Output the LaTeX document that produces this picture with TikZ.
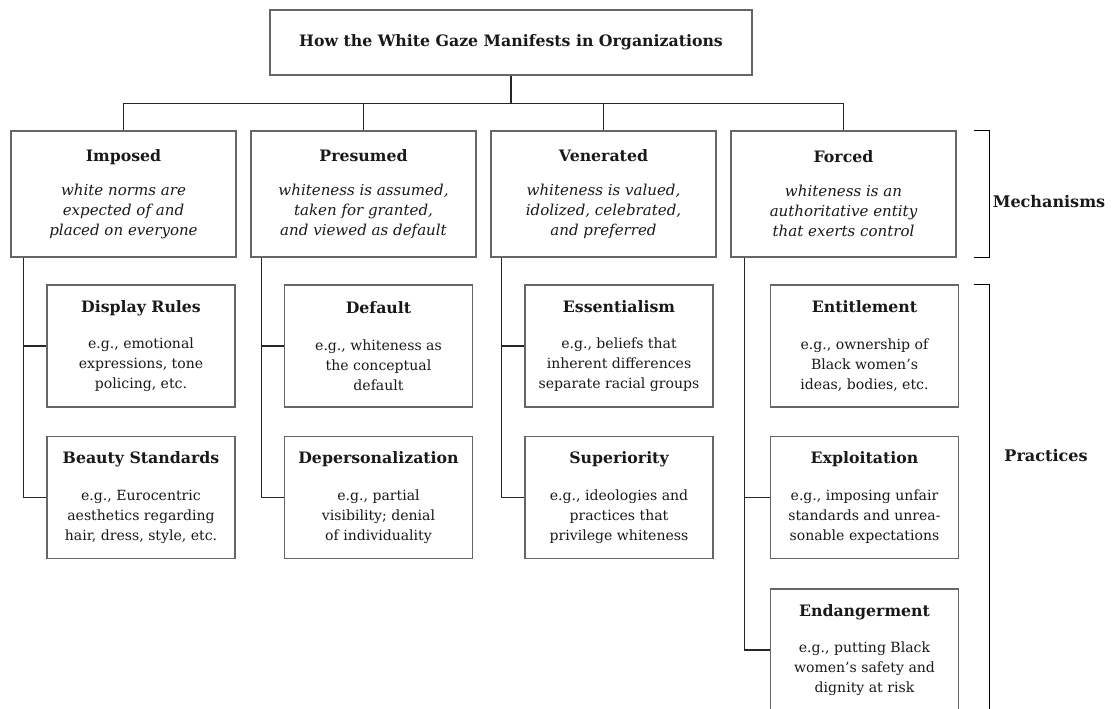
\documentclass[tikz,border=0pt]{standalone}
\usepackage{fontspec}
\setmainfont{DejaVu Serif}
\usepackage{xcolor}
\usepackage{tikz}
\usetikzlibrary{calc}

\newcommand{\headtext}[1]{{\fontsize{11.2}{14.2}\selectfont\bfseries #1}}

\begin{document}
\begin{tikzpicture}[
    font=\fontsize{10}{14.2}\selectfont,
    text=black!90,
    frame/.style={draw=black!60, line width=0.9pt, align=center},
    titlebox/.style={frame, minimum width=12.05cm, minimum height=1.625cm},
    mech/.style={frame, minimum width=5.625cm, minimum height=3.15cm,
                 font=\fontsize{10.7}{14.2}\selectfont},
    practice/.style={frame, minimum width=4.7cm, minimum height=3.05cm},
    link/.style={draw=black!85, line width=0.9pt},
    brace/.style={draw=black, line width=1.2pt},
    side/.style={font=\fontsize{11.4}{13}\selectfont\bfseries},
  ]

  \useasboundingbox (0,0) rectangle (27.85,-17.725);

  % Title
  \node[titlebox] (gaze) at (12.775,-1.0625)
    {\headtext{How the White Gaze Manifests in Organizations}};

  % Mechanisms
  \node[mech] (imposed) at (3.0875,-4.85)
    {\headtext{Imposed}\\[10pt]\itshape white norms are\\ \itshape expected of and\\ \itshape placed on everyone};
  \node[mech] (presumed) at (9.0875,-4.85)
    {\headtext{Presumed}\\[10pt]\itshape whiteness is assumed,\\ \itshape taken for granted,\\ \itshape and viewed as default};
  \node[mech] (venerated) at (15.0875,-4.85)
    {\headtext{Venerated}\\[10pt]\itshape whiteness is valued,\\ \itshape idolized, celebrated,\\ \itshape and preferred};
  \node[mech] (forced) at (21.0875,-4.85)
    {\headtext{Forced}\\[10pt]\itshape whiteness is an\\ \itshape authoritative entity\\ \itshape that exerts control};

  % Title to mechanisms
  \coordinate (bus) at ($(gaze.south)+(0,-0.7)$);
  \draw[link] (gaze.south) -- (bus);
  \draw[link] (imposed.north) |- (bus) -| (forced.north);
  \draw[link] (presumed.north) -- (presumed.north |- bus);
  \draw[link] (venerated.north) -- (venerated.north |- bus);

  % Practices, column 1
  \node[practice] (display) at (3.525,-8.65)
    {\headtext{Display Rules}\\[12pt]e.g., emotional\\ expressions, tone\\ policing, etc.};
  \node[practice] (beauty) at (3.525,-12.4375)
    {\headtext{Beauty Standards}\\[12pt]e.g., Eurocentric\\ aesthetics regarding\\ hair, dress, style, etc.};

  % Practices, column 2
  \node[practice] (default) at (9.4625,-8.65)
    {\headtext{Default}\\[12pt]e.g., whiteness as\\ the conceptual\\ default};
  \node[practice] (deperson) at (9.4625,-12.4375)
    {\headtext{Depersonalization}\\[12pt]e.g., partial\\ visibility; denial\\ of individuality};

  % Practices, column 3
  \node[practice] (essential) at (15.475,-8.65)
    {\headtext{Essentialism}\\[12pt]e.g., beliefs that\\ inherent differences\\ separate racial groups};
  \node[practice] (superior) at (15.475,-12.4375)
    {\headtext{Superiority}\\[12pt]e.g., ideologies and\\ practices that\\ privilege whiteness};

  % Practices, column 4
  \node[practice] (entitle) at (21.6125,-8.65)
    {\headtext{Entitlement}\\[12pt]e.g., ownership of\\ Black women's\\ ideas, bodies, etc.};
  \node[practice] (exploit) at (21.6125,-12.4375)
    {\headtext{Exploitation}\\[12pt]e.g., imposing unfair\\ standards and unrea-\\ sonable expectations};
  \node[practice] (endanger) at (21.6125,-16.25)
    {\headtext{Endangerment}\\[12pt]e.g., putting Black\\ women's safety and\\ dignity at risk};

  % Trunks down to practices
  \coordinate (imposed-trunk) at ($(imposed.south west)+(0.325,0)$);
  \coordinate (presumed-trunk) at ($(presumed.south west)+(0.275,0)$);
  \coordinate (venerated-trunk) at ($(venerated.south west)+(0.275,0)$);
  \coordinate (forced-trunk) at ($(forced.south west)+(0.35,0)$);
  \draw[link] (imposed-trunk) |- (display.west);
  \draw[link] (imposed-trunk) |- (beauty.west);
  \draw[link] (presumed-trunk) |- (default.west);
  \draw[link] (presumed-trunk) |- (deperson.west);
  \draw[link] (venerated-trunk) |- (essential.west);
  \draw[link] (venerated-trunk) |- (superior.west);
  \draw[link] (forced-trunk) |- (exploit.west);
  \draw[link] (forced-trunk) |- (endanger.west);

  % Side brackets
  \draw[brace] ($(forced.north east)+(0.425,0)$) -- ($(forced.north east)+(0.825,0)$)
    -- ($(forced.south east)+(0.825,0)$) -- ($(forced.south east)+(0.425,0)$);
  \node[side] (mechlabel) at (26.225,-5.05) {Mechanisms};
  \draw[brace] ($(entitle.north east)+(0.3625,0)$) -- ($(entitle.north east)+(0.7625,0)$)
    -- ($(entitle.north east)+(0.7625,-11)$);
  \node[side] (praclabel) at (26.15,-11.4) {Practices};

\end{tikzpicture}
\end{document}
